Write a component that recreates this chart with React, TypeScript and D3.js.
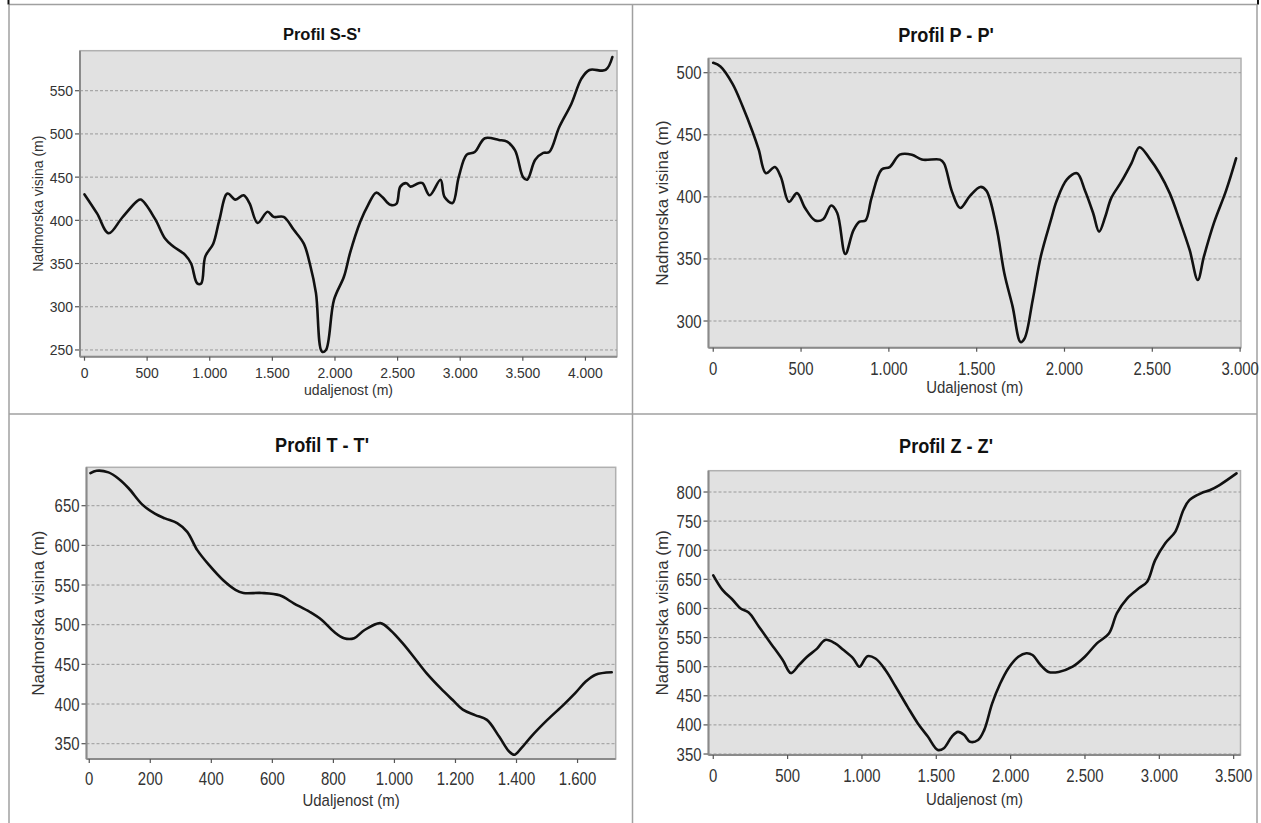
import React from 'react';
import * as d3 from 'd3';

// ---------- DATA ----------
const sDist = [0, 100, 193, 300, 418, 450, 562, 643, 707, 803, 851, 900, 932, 964, 1028, 1076, 1141, 1205, 1270, 1317, 1382, 1462, 1510, 1590, 1671, 1751, 1799, 1848, 1896, 1928, 1992, 2072, 2120, 2201, 2265, 2329, 2378, 2442, 2490, 2522, 2570, 2602, 2667, 2699, 2756, 2843, 2875, 2939, 2988, 3052, 3116, 3197, 3309, 3374, 3438, 3502, 3535, 3599, 3663, 3711, 3791, 3888, 3968, 4032, 4161, 4215];
const sElev = [430, 408, 385, 403, 422, 424, 402, 379, 370, 360, 350, 327, 327, 358, 373, 400, 431, 424, 429, 420, 397, 410, 404, 404, 389, 373, 350, 316, 248, 250, 308, 335, 362, 398, 418, 432, 427, 418, 419, 439, 443, 439, 443, 443, 429, 447, 427, 420, 450, 476, 479, 495, 493, 491, 481, 450, 447, 470, 478, 479, 508, 535, 564, 574, 574, 589];

const pDist = [0, 41, 110, 167, 225, 259, 300, 351, 385, 431, 477, 523, 580, 626, 672, 706, 752, 798, 833, 867, 901, 959, 1005, 1062, 1131, 1188, 1291, 1314, 1360, 1406, 1463, 1521, 1555, 1612, 1658, 1704, 1750, 1773, 1819, 1865, 1922, 1956, 2014, 2071, 2117, 2163, 2197, 2232, 2266, 2323, 2381, 2427, 2484, 2541, 2599, 2656, 2713, 2759, 2794, 2851, 2920, 2977];
const pElev = [508, 505, 491, 473, 452, 438, 419, 424, 416, 396, 403, 391, 381, 382, 393, 387, 354, 373, 380, 381, 399, 422, 424, 434, 434, 430, 430, 427, 404, 391, 401, 408, 405, 376, 338, 312, 283, 286, 317, 352, 381, 397, 414, 419, 405, 387, 372, 384, 399, 412, 427, 440, 431, 419, 403, 381, 357, 333, 352, 379, 405, 431];

const tDist = [4, 24, 63, 96, 129, 175, 215, 248, 288, 321, 354, 393, 439, 479, 505, 565, 624, 670, 723, 762, 802, 835, 868, 901, 954, 987, 1026, 1066, 1105, 1151, 1191, 1224, 1264, 1303, 1343, 1376, 1393, 1415, 1448, 1501, 1554, 1593, 1626, 1659, 1712];
const tElev = [691, 694, 692, 684, 672, 651, 640, 634, 628, 617, 594, 575, 556, 544, 540, 540, 537, 527, 516, 506, 491, 483, 483, 493, 502, 493, 477, 458, 439, 420, 405, 393, 386, 380, 359, 340, 336, 344, 359, 380, 399, 414, 428, 437, 440];

const zDist = [0, 62, 130, 184, 238, 306, 387, 468, 522, 577, 631, 698, 753, 820, 874, 942, 983, 1037, 1091, 1159, 1226, 1307, 1375, 1443, 1510, 1551, 1605, 1646, 1686, 1727, 1781, 1822, 1876, 1930, 1984, 2052, 2106, 2147, 2201, 2255, 2323, 2417, 2499, 2580, 2661, 2715, 2783, 2864, 2918, 2972, 3040, 3108, 3162, 3202, 3283, 3338, 3405, 3519];
const zElev = [657, 632, 615, 600, 593, 569, 540, 511, 489, 503, 517, 531, 546, 540, 529, 514, 500, 518, 514, 494, 466, 431, 403, 380, 357, 360, 380, 388, 383, 371, 374, 391, 437, 471, 497, 517, 523, 520, 503, 491, 491, 500, 517, 540, 557, 592, 617, 635, 646, 683, 712, 732, 769, 786, 798, 803, 812, 832];

const sXTicks = [0, 500, 1000, 1500, 2000, 2500, 3000, 3500, 4000];
const sYTicks = [250, 300, 350, 400, 450, 500, 550];
const pXTicks = [0, 500, 1000, 1500, 2000, 2500, 3000];
const pYTicks = [300, 350, 400, 450, 500];
const tXTicks = [0, 200, 400, 600, 800, 1000, 1200, 1400, 1600];
const tYTicks = [350, 400, 450, 500, 550, 600, 650];
const zXTicks = [0, 500, 1000, 1500, 2000, 2500, 3000, 3500];
const zYTicks = [350, 400, 450, 500, 550, 600, 650, 700, 750, 800];

const titles = ["Profil S-S'", "Profil P - P'", "Profil T - T'", "Profil Z - Z'"];
const xTitles = ['udaljenost (m)', 'Udaljenost (m)', 'Udaljenost (m)', 'Udaljenost (m)'];
const yTitle = 'Nadmorska visina (m)';

// ---------- HELPERS ----------
const locale = d3.formatLocale({ decimal: ',', thousands: '.', grouping: [3], currency: ['', ''] });
const fmt = locale.format(',d');
const FONT = "'Liberation Sans', Arial, 'DejaVu Sans', sans-serif";

type TProps = {
  x: number; y: number; size: number; sx?: number; anchor?: 'start' | 'middle' | 'end';
  weight?: string | number; children: React.ReactNode; fill?: string; rotate?: number; baseline?: string;
};
const T = ({ x, y, size, sx = 1, anchor = 'middle', weight = 'normal', children, fill = '#333', rotate = 0, baseline }: TProps) => (
  <text
    transform={`translate(${x},${y}) rotate(${rotate}) scale(${sx},1)`}
    fontFamily={FONT}
    fontSize={size}
    fontWeight={weight}
    textAnchor={anchor}
    dominantBaseline={baseline as any}
    fill={fill}
  >
    {children}
  </text>
);

type PanelCfg = {
  title: string; xTitle: string; dist: number[]; elev: number[]; xTicks: number[]; yTicks: number[];
  rect: [number, number, number, number]; // x0, x1, y0, y1
  xDom: [number, number]; yDom: [number, number];
  titlePos: [number, number]; titleSize: number; titleSx: number;
  tickSize: number; tickSx: number; xLabOff: number; yLabGap: number; yLabBase: number;
  xTitleBase: number; xTitleSize: number; xTitleSx: number;
  yTitleX: number; yTitleSize: number;
};

const Panel = ({ c }: { c: PanelCfg }) => {
  const [x0, x1, y0, y1] = c.rect;
  const x = d3.scaleLinear().domain(c.xDom).range([x0, x1]);
  const y = d3.scaleLinear().domain(c.yDom).range([y1, y0]);
  const pts = c.dist.map((d, i) => [d, c.elev[i]] as [number, number]);
  const line = d3.line<[number, number]>()
    .x((d) => x(d[0]))
    .y((d) => y(d[1]))
    .curve(d3.curveCatmullRom.alpha(0.5));
  return (
    <g>
      <T x={c.titlePos[0]} y={c.titlePos[1]} size={c.titleSize} sx={c.titleSx} weight="bold" fill="#111">{c.title}</T>
      <rect x={x0} y={y0} width={x1 - x0} height={y1 - y0} fill="#e1e1e1" stroke="#b0b0b0" strokeWidth={1.5} />
      {c.yTicks.map((t) => (
        <g key={'g' + t}>
          <line x1={x0} x2={x1} y1={y(t)} y2={y(t)} stroke="#9a9a9a" strokeWidth={1} strokeDasharray="3,2" />
          <line x1={x0 - 5} x2={x0} y1={y(t)} y2={y(t)} stroke="#555" strokeWidth={1.2} />
          <T x={x0 - c.yLabGap} y={y(t) + c.yLabBase} size={c.tickSize} sx={c.tickSx} anchor="end">{fmt(t)}</T>
        </g>
      ))}
      <path d={line(pts) || ''} fill="none" stroke="#111" strokeWidth={2.6} strokeLinejoin="round" strokeLinecap="round" />
      <line x1={x0} x2={x0} y1={y0} y2={y1} stroke="#8a8a8a" strokeWidth={2} />
      <line x1={x0} x2={x1} y1={y1} y2={y1} stroke="#8a8a8a" strokeWidth={2} />
      {c.xTicks.map((t) => (
        <g key={'x' + t}>
          <line x1={x(t)} x2={x(t)} y1={y1} y2={y1 + 4} stroke="#555" strokeWidth={1.2} />
          <T x={x(t)} y={y1 + c.xLabOff} size={c.tickSize} sx={c.tickSx}>{fmt(t)}</T>
        </g>
      ))}
      <T x={(x0 + x1) / 2} y={c.xTitleBase} size={c.xTitleSize} sx={c.xTitleSx}>{c.xTitle}</T>
      <T x={c.yTitleX} y={(y0 + y1) / 2} size={c.yTitleSize} rotate={-90} baseline="central">{yTitle}</T>
    </g>
  );
};

const panels: PanelCfg[] = [
  {
    title: titles[0], xTitle: xTitles[0], dist: sDist, elev: sElev, xTicks: sXTicks, yTicks: sYTicks,
    rect: [80, 617, 50.7, 356.7], xDom: [-36, 4252], yDom: [242.2, 596.3],
    titlePos: [322, 40], titleSize: 17, titleSx: 0.97,
    tickSize: 15, tickSx: 0.93, xLabOff: 21.5, yLabGap: 7, yLabBase: 5.5,
    xTitleBase: 395, xTitleSize: 14.5, xTitleSx: 0.97, yTitleX: 38, yTitleSize: 14,
  },
  {
    title: titles[1], xTitle: xTitles[1], dist: pDist, elev: pElev, xTicks: pXTicks, yTicks: pYTicks,
    rect: [708.5, 1241, 58.3, 347.7], xDom: [-27, 3005], yDom: [278.5, 511.6],
    titlePos: [946, 41.7], titleSize: 19.5, titleSx: 0.93,
    tickSize: 18, tickSx: 0.83, xLabOff: 27, yLabGap: 7, yLabBase: 6.5,
    xTitleBase: 393, xTitleSize: 17, xTitleSx: 0.88, yTitleX: 662, yTitleSize: 17,
  },
  {
    title: titles[2], xTitle: xTitles[2], dist: tDist, elev: tElev, xTicks: tXTicks, yTicks: tYTicks,
    rect: [86.5, 615.7, 467.3, 759], xDom: [-9, 1725], yDom: [330.7, 698.4],
    titlePos: [322, 451.7], titleSize: 19.5, titleSx: 0.93,
    tickSize: 18, tickSx: 0.83, xLabOff: 26, yLabGap: 7, yLabBase: 6.5,
    xTitleBase: 806, xTitleSize: 17, xTitleSx: 0.88, yTitleX: 38, yTitleSize: 17,
  },
  {
    title: titles[3], xTitle: xTitles[3], dist: zDist, elev: zElev, xTicks: zXTicks, yTicks: zYTicks,
    rect: [708.5, 1240.5, 470.7, 755], xDom: [-32, 3546], yDom: [348.3, 836.6],
    titlePos: [946, 453.3], titleSize: 19.5, titleSx: 0.93,
    tickSize: 18, tickSx: 0.83, xLabOff: 26.5, yLabGap: 7, yLabBase: 6.5,
    xTitleBase: 805, xTitleSize: 17, xTitleSx: 0.88, yTitleX: 662, yTitleSize: 17,
  },
];

export default function App() {
  return (
    <svg
      width={1261}
      height={823}
      style={{ position: 'absolute', left: 0, top: 0, background: '#fff' }}
    >
      <rect x={0} y={0} width={1261} height={823} fill="#fff" />
      {/* table borders */}
      <line x1={9} x2={1257} y1={4.5} y2={4.5} stroke="#a0a0a0" strokeWidth={1.5} />
      <line x1={9} x2={9} y1={4.5} y2={823} stroke="#a0a0a0" strokeWidth={1.5} />
      <line x1={1257} x2={1257} y1={4.5} y2={823} stroke="#a0a0a0" strokeWidth={1.5} />
      <line x1={632.5} x2={632.5} y1={4.5} y2={823} stroke="#a0a0a0" strokeWidth={1.5} />
      <line x1={9} x2={1257} y1={414} y2={414} stroke="#a0a0a0" strokeWidth={1.5} />
      <line x1={8.5} x2={8.5} y1={0} y2={4.5} stroke="#111" strokeWidth={2} />
      <line x1={1258} x2={1258} y1={0} y2={4.5} stroke="#111" strokeWidth={2} />
      {panels.map((c, i) => (
        <Panel key={i} c={c} />
      ))}
    </svg>
  );
}
